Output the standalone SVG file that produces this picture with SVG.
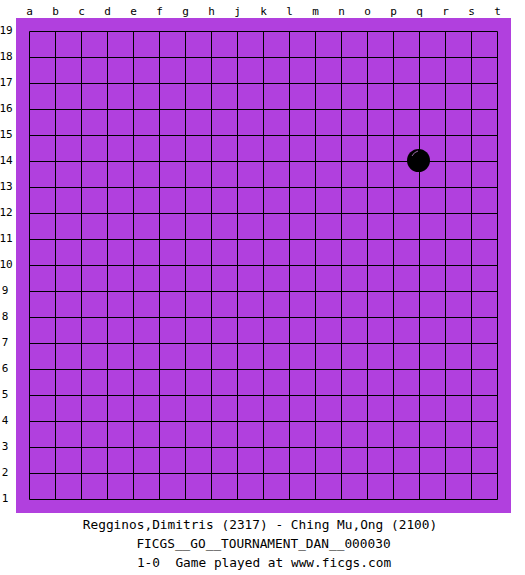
<svg xmlns="http://www.w3.org/2000/svg" width="525" height="575" viewBox="0 0 525 575">
<style>
.lbl{font-family:"DejaVu Sans Mono","Liberation Mono",monospace;font-size:11px;fill:#000;text-anchor:middle}
.info{font-family:"DejaVu Sans Mono","Liberation Mono",monospace;font-size:12.8px;fill:#000;text-anchor:middle}
.grid line{stroke:#000;stroke-width:1}
</style>
<rect width="525" height="575" fill="#fff"/>
<g id="board">
<rect x="16" y="18" width="495" height="495" fill="#b140de"/>
<g class="grid">
<line x1="29.5" y1="31.5" x2="497.5" y2="31.5"/><line x1="29.5" y1="57.5" x2="497.5" y2="57.5"/><line x1="29.5" y1="83.5" x2="497.5" y2="83.5"/><line x1="29.5" y1="109.5" x2="497.5" y2="109.5"/><line x1="29.5" y1="135.5" x2="497.5" y2="135.5"/><line x1="29.5" y1="161.5" x2="497.5" y2="161.5"/><line x1="29.5" y1="187.5" x2="497.5" y2="187.5"/><line x1="29.5" y1="213.5" x2="497.5" y2="213.5"/><line x1="29.5" y1="239.5" x2="497.5" y2="239.5"/><line x1="29.5" y1="265.5" x2="497.5" y2="265.5"/><line x1="29.5" y1="291.5" x2="497.5" y2="291.5"/><line x1="29.5" y1="317.5" x2="497.5" y2="317.5"/><line x1="29.5" y1="343.5" x2="497.5" y2="343.5"/><line x1="29.5" y1="369.5" x2="497.5" y2="369.5"/><line x1="29.5" y1="395.5" x2="497.5" y2="395.5"/><line x1="29.5" y1="421.5" x2="497.5" y2="421.5"/><line x1="29.5" y1="447.5" x2="497.5" y2="447.5"/><line x1="29.5" y1="473.5" x2="497.5" y2="473.5"/><line x1="29.5" y1="499.5" x2="497.5" y2="499.5"/>
<line x1="29.5" y1="31.5" x2="29.5" y2="499.5"/><line x1="55.5" y1="31.5" x2="55.5" y2="499.5"/><line x1="81.5" y1="31.5" x2="81.5" y2="499.5"/><line x1="107.5" y1="31.5" x2="107.5" y2="499.5"/><line x1="133.5" y1="31.5" x2="133.5" y2="499.5"/><line x1="159.5" y1="31.5" x2="159.5" y2="499.5"/><line x1="185.5" y1="31.5" x2="185.5" y2="499.5"/><line x1="211.5" y1="31.5" x2="211.5" y2="499.5"/><line x1="237.5" y1="31.5" x2="237.5" y2="499.5"/><line x1="263.5" y1="31.5" x2="263.5" y2="499.5"/><line x1="289.5" y1="31.5" x2="289.5" y2="499.5"/><line x1="315.5" y1="31.5" x2="315.5" y2="499.5"/><line x1="341.5" y1="31.5" x2="341.5" y2="499.5"/><line x1="367.5" y1="31.5" x2="367.5" y2="499.5"/><line x1="393.5" y1="31.5" x2="393.5" y2="499.5"/><line x1="419.5" y1="31.5" x2="419.5" y2="499.5"/><line x1="445.5" y1="31.5" x2="445.5" y2="499.5"/><line x1="471.5" y1="31.5" x2="471.5" y2="499.5"/><line x1="497.5" y1="31.5" x2="497.5" y2="499.5"/>
</g>
</g>
<g id="stone-q14">
<circle cx="418.5" cy="160.5" r="11.5" fill="#000"/>
<path d="M412 156 Q414 152 418 151" stroke="#9a6aa8" stroke-width="1" fill="none"/>
</g>
<g id="col-labels">
<text class="lbl" x="29.5" y="15">a</text><text class="lbl" x="55.5" y="15">b</text><text class="lbl" x="81.5" y="15">c</text><text class="lbl" x="107.5" y="15">d</text><text class="lbl" x="133.5" y="15">e</text><text class="lbl" x="159.5" y="15">f</text><text class="lbl" x="185.5" y="15">g</text><text class="lbl" x="211.5" y="15">h</text><text class="lbl" x="237.5" y="15">j</text><text class="lbl" x="263.5" y="15">k</text><text class="lbl" x="289.5" y="15">l</text><text class="lbl" x="315.5" y="15">m</text><text class="lbl" x="341.5" y="15">n</text><text class="lbl" x="367.5" y="15">o</text><text class="lbl" x="393.5" y="15">p</text><text class="lbl" x="419.5" y="15">q</text><text class="lbl" x="445.5" y="15">r</text><text class="lbl" x="471.5" y="15">s</text><text class="lbl" x="497.5" y="15">t</text>
</g>
<g id="row-labels">
<text class="lbl" x="6" y="34">19</text><text class="lbl" x="6" y="60">18</text><text class="lbl" x="6" y="86">17</text><text class="lbl" x="6" y="112">16</text><text class="lbl" x="6" y="138">15</text><text class="lbl" x="6" y="164">14</text><text class="lbl" x="6" y="190">13</text><text class="lbl" x="6" y="216">12</text><text class="lbl" x="6" y="242">11</text><text class="lbl" x="6" y="268">10</text><text class="lbl" x="5" y="294">9</text><text class="lbl" x="5" y="320">8</text><text class="lbl" x="5" y="346">7</text><text class="lbl" x="5" y="372">6</text><text class="lbl" x="5" y="398">5</text><text class="lbl" x="5" y="424">4</text><text class="lbl" x="5" y="450">3</text><text class="lbl" x="5" y="476">2</text><text class="lbl" x="5" y="502">1</text>
</g>
<g id="info">
<text class="info" x="260" y="529">Regginos,Dimitris (2317) - Ching Mu,Ong (2100)</text>
<text class="info" x="263.5" y="548">FICGS__GO__TOURNAMENT_DAN__000030</text>
<text class="info" x="264" y="567" xml:space="preserve">1-0  Game played at www.ficgs.com</text>
</g>
</svg>
